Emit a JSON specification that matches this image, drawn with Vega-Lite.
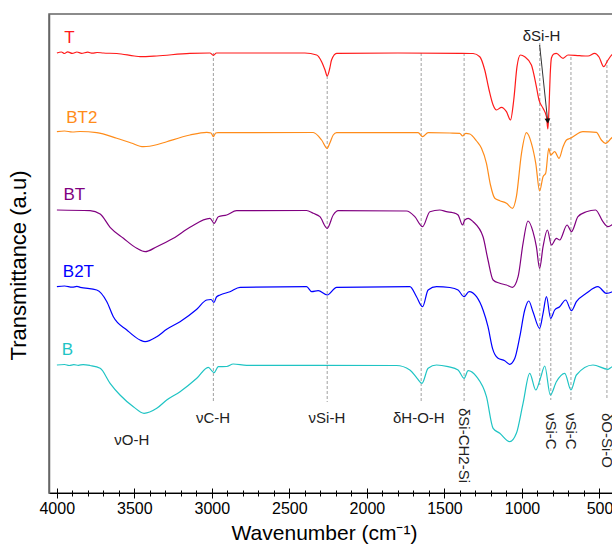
{
  "$schema": "https://vega.github.io/schema/vega-lite/v6.json",
  "autosize": "none",
  "padding": {"left": 49, "top": 14, "right": 0, "bottom": 54},
  "width": 566,
  "height": 479,
  "config": {"font": "Liberation Sans", "view": {"stroke": "#666", "strokeWidth": 1.5}, "axis": {"grid": false}},
  "datasets": {
    "spec": [
      {"s":"T","wn":3999,"t":4.40},{"s":"T","wn":3970,"t":4.41},{"s":"T","wn":3950,"t":4.395},{"s":"T","wn":3930,"t":4.412},{"s":"T","wn":3900,"t":4.396},{"s":"T","wn":3870,"t":4.41},{"s":"T","wn":3840,"t":4.397},{"s":"T","wn":3800,"t":4.408},{"s":"T","wn":3770,"t":4.398},{"s":"T","wn":3740,"t":4.405},{"s":"T","wn":3700,"t":4.40},{"s":"T","wn":3613,"t":4.395},{"s":"T","wn":3500,"t":4.37},{"s":"T","wn":3463,"t":4.363},{"s":"T","wn":3355,"t":4.37},{"s":"T","wn":3141,"t":4.397},{"s":"T","wn":3012,"t":4.40},{"s":"T","wn":2990,"t":4.377},{"s":"T","wn":2970,"t":4.40},{"s":"T","wn":2400,"t":4.40},{"s":"T","wn":2324,"t":4.38},{"s":"T","wn":2292,"t":4.313},{"s":"T","wn":2270,"t":4.23},{"s":"T","wn":2256,"t":4.17},{"s":"T","wn":2239,"t":4.25},{"s":"T","wn":2228,"t":4.33},{"s":"T","wn":2195,"t":4.397},{"s":"T","wn":1800,"t":4.40},{"s":"T","wn":1400,"t":4.397},{"s":"T","wn":1315,"t":4.395},{"s":"T","wn":1272,"t":4.363},{"s":"T","wn":1240,"t":4.23},{"s":"T","wn":1212,"t":4.03},{"s":"T","wn":1186,"t":3.88},{"s":"T","wn":1164,"t":3.83},{"s":"T","wn":1132,"t":3.857},{"s":"T","wn":1100,"t":3.813},{"s":"T","wn":1074,"t":3.73},{"s":"T","wn":1053,"t":3.93},{"s":"T","wn":1032,"t":4.263},{"s":"T","wn":1010,"t":4.38},{"s":"T","wn":982,"t":4.363},{"s":"T","wn":939,"t":4.28},{"s":"T","wn":907,"t":4.063},{"s":"T","wn":890,"t":3.93},{"s":"T","wn":864,"t":3.847},{"s":"T","wn":842,"t":3.763},{"s":"T","wn":833,"t":3.64},{"s":"T","wn":826,"t":3.83},{"s":"T","wn":818,"t":4.18},{"s":"T","wn":810,"t":4.35},{"s":"T","wn":795,"t":4.39},{"s":"T","wn":778,"t":4.397},{"s":"T","wn":735,"t":4.347},{"s":"T","wn":703,"t":4.38},{"s":"T","wn":628,"t":4.373},{"s":"T","wn":574,"t":4.37},{"s":"T","wn":531,"t":4.397},{"s":"T","wn":503,"t":4.36},{"s":"T","wn":473,"t":4.263},{"s":"T","wn":445,"t":4.33},{"s":"T","wn":421,"t":4.38},{"s":"T","wn":400,"t":4.40},
      {"s":"BT2","wn":3999,"t":3.613},{"s":"BT2","wn":3950,"t":3.62},{"s":"BT2","wn":3900,"t":3.61},{"s":"BT2","wn":3850,"t":3.615},{"s":"BT2","wn":3742,"t":3.603},{"s":"BT2","wn":3613,"t":3.547},{"s":"BT2","wn":3520,"t":3.50},{"s":"BT2","wn":3441,"t":3.463},{"s":"BT2","wn":3350,"t":3.485},{"s":"BT2","wn":3291,"t":3.513},{"s":"BT2","wn":3141,"t":3.58},{"s":"BT2","wn":3033,"t":3.607},{"s":"BT2","wn":3005,"t":3.60},{"s":"BT2","wn":2990,"t":3.563},{"s":"BT2","wn":2975,"t":3.60},{"s":"BT2","wn":2960,"t":3.603},{"s":"BT2","wn":2346,"t":3.605},{"s":"BT2","wn":2292,"t":3.53},{"s":"BT2","wn":2256,"t":3.447},{"s":"BT2","wn":2239,"t":3.50},{"s":"BT2","wn":2217,"t":3.58},{"s":"BT2","wn":2195,"t":3.603},{"s":"BT2","wn":1670,"t":3.603},{"s":"BT2","wn":1641,"t":3.563},{"s":"BT2","wn":1605,"t":3.603},{"s":"BT2","wn":1465,"t":3.60},{"s":"BT2","wn":1401,"t":3.597},{"s":"BT2","wn":1383,"t":3.57},{"s":"BT2","wn":1362,"t":3.597},{"s":"BT2","wn":1336,"t":3.59},{"s":"BT2","wn":1293,"t":3.52},{"s":"BT2","wn":1261,"t":3.447},{"s":"BT2","wn":1229,"t":3.297},{"s":"BT2","wn":1203,"t":3.08},{"s":"BT2","wn":1175,"t":2.947},{"s":"BT2","wn":1143,"t":2.923},{"s":"BT2","wn":1100,"t":2.897},{"s":"BT2","wn":1061,"t":2.847},{"s":"BT2","wn":1036,"t":2.963},{"s":"BT2","wn":1003,"t":3.397},{"s":"BT2","wn":971,"t":3.603},{"s":"BT2","wn":939,"t":3.497},{"s":"BT2","wn":911,"t":3.297},{"s":"BT2","wn":886,"t":3.02},{"s":"BT2","wn":864,"t":3.163},{"s":"BT2","wn":847,"t":3.197},{"s":"BT2","wn":827,"t":3.447},{"s":"BT2","wn":815,"t":3.38},{"s":"BT2","wn":789,"t":3.413},{"s":"BT2","wn":761,"t":3.347},{"s":"BT2","wn":735,"t":3.463},{"s":"BT2","wn":713,"t":3.53},{"s":"BT2","wn":688,"t":3.547},{"s":"BT2","wn":671,"t":3.563},{"s":"BT2","wn":607,"t":3.613},{"s":"BT2","wn":520,"t":3.607},{"s":"BT2","wn":488,"t":3.53},{"s":"BT2","wn":462,"t":3.497},{"s":"BT2","wn":424,"t":3.547},{"s":"BT2","wn":400,"t":3.58},
      {"s":"BT","wn":3999,"t":2.83},{"s":"BT","wn":3785,"t":2.823},{"s":"BT","wn":3720,"t":2.79},{"s":"BT","wn":3656,"t":2.657},{"s":"BT","wn":3570,"t":2.547},{"s":"BT","wn":3484,"t":2.447},{"s":"BT","wn":3430,"t":2.413},{"s":"BT","wn":3355,"t":2.463},{"s":"BT","wn":3248,"t":2.547},{"s":"BT","wn":3141,"t":2.657},{"s":"BT","wn":3012,"t":2.747},{"s":"BT","wn":2985,"t":2.697},{"s":"BT","wn":2958,"t":2.763},{"s":"BT","wn":2904,"t":2.78},{"s":"BT","wn":2840,"t":2.823},{"s":"BT","wn":2389,"t":2.825},{"s":"BT","wn":2346,"t":2.797},{"s":"BT","wn":2303,"t":2.763},{"s":"BT","wn":2256,"t":2.647},{"s":"BT","wn":2217,"t":2.78},{"s":"BT","wn":2185,"t":2.823},{"s":"BT","wn":1744,"t":2.82},{"s":"BT","wn":1691,"t":2.763},{"s":"BT","wn":1641,"t":2.663},{"s":"BT","wn":1594,"t":2.813},{"s":"BT","wn":1530,"t":2.83},{"s":"BT","wn":1487,"t":2.813},{"s":"BT","wn":1444,"t":2.803},{"s":"BT","wn":1412,"t":2.78},{"s":"BT","wn":1383,"t":2.68},{"s":"BT","wn":1369,"t":2.73},{"s":"BT","wn":1347,"t":2.747},{"s":"BT","wn":1315,"t":2.713},{"s":"BT","wn":1251,"t":2.563},{"s":"BT","wn":1219,"t":2.33},{"s":"BT","wn":1186,"t":2.13},{"s":"BT","wn":1143,"t":2.097},{"s":"BT","wn":1100,"t":2.08},{"s":"BT","wn":1061,"t":2.057},{"s":"BT","wn":1025,"t":2.163},{"s":"BT","wn":993,"t":2.497},{"s":"BT","wn":961,"t":2.72},{"s":"BT","wn":929,"t":2.613},{"s":"BT","wn":907,"t":2.463},{"s":"BT","wn":886,"t":2.247},{"s":"BT","wn":864,"t":2.463},{"s":"BT","wn":836,"t":2.63},{"s":"BT","wn":810,"t":2.48},{"s":"BT","wn":778,"t":2.547},{"s":"BT","wn":757,"t":2.53},{"s":"BT","wn":709,"t":2.68},{"s":"BT","wn":681,"t":2.613},{"s":"BT","wn":639,"t":2.763},{"s":"BT","wn":585,"t":2.813},{"s":"BT","wn":525,"t":2.83},{"s":"BT","wn":478,"t":2.713},{"s":"BT","wn":445,"t":2.663},{"s":"BT","wn":421,"t":2.68},{"s":"BT","wn":400,"t":2.71},
      {"s":"B2T","wn":3999,"t":2.063},{"s":"B2T","wn":3950,"t":2.07},{"s":"B2T","wn":3900,"t":2.058},{"s":"B2T","wn":3870,"t":2.066},{"s":"B2T","wn":3849,"t":2.057},{"s":"B2T","wn":3742,"t":2.03},{"s":"B2T","wn":3677,"t":1.913},{"s":"B2T","wn":3635,"t":1.763},{"s":"B2T","wn":3548,"t":1.63},{"s":"B2T","wn":3463,"t":1.53},{"s":"B2T","wn":3430,"t":1.513},{"s":"B2T","wn":3355,"t":1.563},{"s":"B2T","wn":3291,"t":1.637},{"s":"B2T","wn":3205,"t":1.713},{"s":"B2T","wn":3097,"t":1.837},{"s":"B2T","wn":3033,"t":1.93},{"s":"B2T","wn":3005,"t":1.935},{"s":"B2T","wn":2986,"t":1.905},{"s":"B2T","wn":2970,"t":1.96},{"s":"B2T","wn":2947,"t":1.98},{"s":"B2T","wn":2883,"t":2.013},{"s":"B2T","wn":2818,"t":2.057},{"s":"B2T","wn":2389,"t":2.063},{"s":"B2T","wn":2356,"t":2.013},{"s":"B2T","wn":2314,"t":2.023},{"s":"B2T","wn":2256,"t":1.98},{"s":"B2T","wn":2195,"t":2.057},{"s":"B2T","wn":1723,"t":2.063},{"s":"B2T","wn":1680,"t":1.963},{"s":"B2T","wn":1641,"t":1.863},{"s":"B2T","wn":1605,"t":2.03},{"s":"B2T","wn":1551,"t":2.063},{"s":"B2T","wn":1465,"t":2.055},{"s":"B2T","wn":1412,"t":2.03},{"s":"B2T","wn":1373,"t":1.963},{"s":"B2T","wn":1341,"t":2.013},{"s":"B2T","wn":1293,"t":1.963},{"s":"B2T","wn":1251,"t":1.83},{"s":"B2T","wn":1219,"t":1.663},{"s":"B2T","wn":1190,"t":1.447},{"s":"B2T","wn":1154,"t":1.347},{"s":"B2T","wn":1111,"t":1.323},{"s":"B2T","wn":1079,"t":1.287},{"s":"B2T","wn":1046,"t":1.347},{"s":"B2T","wn":1014,"t":1.563},{"s":"B2T","wn":982,"t":1.83},{"s":"B2T","wn":956,"t":1.92},{"s":"B2T","wn":929,"t":1.813},{"s":"B2T","wn":886,"t":1.647},{"s":"B2T","wn":864,"t":1.797},{"s":"B2T","wn":842,"t":1.963},{"s":"B2T","wn":815,"t":1.747},{"s":"B2T","wn":789,"t":1.83},{"s":"B2T","wn":757,"t":1.863},{"s":"B2T","wn":718,"t":1.93},{"s":"B2T","wn":681,"t":1.823},{"s":"B2T","wn":649,"t":1.913},{"s":"B2T","wn":585,"t":1.997},{"s":"B2T","wn":510,"t":2.063},{"s":"B2T","wn":456,"t":1.997},{"s":"B2T","wn":421,"t":2.01},{"s":"B2T","wn":400,"t":2.03},
      {"s":"B","wn":3999,"t":1.28},{"s":"B","wn":3950,"t":1.285},{"s":"B","wn":3920,"t":1.275},{"s":"B","wn":3890,"t":1.283},{"s":"B","wn":3860,"t":1.277},{"s":"B","wn":3830,"t":1.284},{"s":"B","wn":3785,"t":1.275},{"s":"B","wn":3720,"t":1.247},{"s":"B","wn":3656,"t":1.097},{"s":"B","wn":3592,"t":0.98},{"s":"B","wn":3506,"t":0.863},{"s":"B","wn":3437,"t":0.797},{"s":"B","wn":3355,"t":0.847},{"s":"B","wn":3291,"t":0.93},{"s":"B","wn":3205,"t":1.013},{"s":"B","wn":3097,"t":1.147},{"s":"B","wn":3023,"t":1.257},{"s":"B","wn":2986,"t":1.203},{"s":"B","wn":2958,"t":1.263},{"s":"B","wn":2904,"t":1.265},{"s":"B","wn":2862,"t":1.29},{"s":"B","wn":2775,"t":1.277},{"s":"B","wn":1809,"t":1.275},{"s":"B","wn":1723,"t":1.23},{"s":"B","wn":1676,"t":1.147},{"s":"B","wn":1645,"t":1.097},{"s":"B","wn":1605,"t":1.247},{"s":"B","wn":1551,"t":1.28},{"s":"B","wn":1476,"t":1.263},{"s":"B","wn":1412,"t":1.23},{"s":"B","wn":1373,"t":1.147},{"s":"B","wn":1347,"t":1.223},{"s":"B","wn":1293,"t":1.163},{"s":"B","wn":1229,"t":0.963},{"s":"B","wn":1186,"t":0.647},{"s":"B","wn":1143,"t":0.597},{"s":"B","wn":1079,"t":0.513},{"s":"B","wn":1036,"t":0.597},{"s":"B","wn":993,"t":0.897},{"s":"B","wn":950,"t":1.197},{"s":"B","wn":911,"t":1.03},{"s":"B","wn":881,"t":1.147},{"s":"B","wn":853,"t":1.27},{"s":"B","wn":817,"t":0.98},{"s":"B","wn":778,"t":1.113},{"s":"B","wn":724,"t":1.197},{"s":"B","wn":684,"t":1.03},{"s":"B","wn":649,"t":1.18},{"s":"B","wn":542,"t":1.28},{"s":"B","wn":445,"t":1.237},{"s":"B","wn":421,"t":1.26},{"s":"B","wn":400,"t":1.27}
    ],
    "vlines": [
      {"wn":2990,"t1":4.40,"t2":0.91},{"wn":2256,"t1":4.17,"t2":0.91},{"wn":1650,"t1":4.40,"t2":0.91},{"wn":1373,"t1":4.40,"t2":0.91},
      {"wn":885,"t1":4.50,"t2":1.08},{"wn":814,"t1":3.70,"t2":0.93},{"wn":684,"t1":4.36,"t2":0.93},{"wn":452,"t1":4.33,"t2":0.93}
    ],
    "hlabels": [
      {"label":"νO-H","wn":3516,"t":0.53},{"label":"νC-H","wn":2992,"t":0.75},{"label":"νSi-H","wn":2258,"t":0.75},{"label":"δH-O-H","wn":1665,"t":0.75},{"label":"δSi-H","wn":874,"t":4.57}
    ],
    "vlabels": [
      {"label":"δSi-CH2-Si","wn":1373,"t":0.85},{"label":"νSi-C","wn":815,"t":0.80},{"label":"νSi-C","wn":684,"t":0.80},{"label":"δO-Si-O","wn":452,"t":0.80}
    ],
    "arrow": [{"wa":886,"ta":4.48,"wb":834,"tb":3.72}],
    "names": [
      {"s":"T","wn":3952,"t":4.55},{"s":"BT2","wn":3939,"t":3.75},{"s":"BT","wn":3957,"t":2.98},{"s":"B2T","wn":3961,"t":2.21},{"s":"B","wn":3967,"t":1.43}
    ]
  },
  "resolve": {"axis": {"x": "independent", "y": "independent"}},
  "layer": [
    {
      "data": {"name": "vlines"},
      "mark": {"type": "rule", "color": "#a0a0a0", "strokeDash": [3, 2], "strokeWidth": 1},
      "encoding": {
        "x": {"field": "wn", "type": "quantitative", "scale": {"domain": [400, 4050], "reverse": true, "nice": false, "zero": false},
              "axis": {"orient": "bottom", "values": [500,1000,1500,2000,2500,3000,3500,4000], "tickSize": -5, "tickColor": "#000", "labels": false, "domain": false, "title": null}},
        "y": {"field": "t1", "type": "quantitative", "scale": {"domain": [0, 4.79], "nice": false, "zero": false}, "axis": null},
        "y2": {"field": "t2"}
      }
    },
    {
      "data": {"name": "spec"},
      "mark": {"type": "line", "strokeWidth": 1.2, "interpolate": "monotone"},
      "encoding": {
        "x": {"field": "wn", "type": "quantitative",
              "axis": {"orient": "bottom", "values": [500,1000,1500,2000,2500,3000,3500,4000], "format": "d", "tickSize": 5, "tickColor": "#000", "domainColor": "#000", "domainWidth": 1.2,
                       "labelFontSize": 16, "labelColor": "#000", "labelPadding": 2, "labelFont": "Liberation Sans",
                       "title": "Wavenumber (cm⁻¹)", "titleFontSize": 21, "titleFontWeight": "normal", "titleColor": "#000", "titleFont": "Liberation Sans",
                       "titleX": 275, "titleY": 46, "titleBaseline": "alphabetic", "titleAlign": "center"}},
        "y": {"field": "t", "type": "quantitative",
              "axis": {"orient": "left", "ticks": false, "labels": false, "domainColor": "#666", "domainWidth": 1.5,
                       "title": "Transmittance (a.u)", "titleFontSize": 22, "titleFontWeight": "normal", "titleColor": "#000", "titleFont": "Liberation Sans",
                       "titleX": -24, "titleY": 251, "titleBaseline": "alphabetic", "titleAlign": "center", "titleAngle": -90}},
        "color": {"field": "s", "type": "nominal", "scale": {"domain": ["T","BT2","BT","B2T","B"], "range": ["#ff1a1a","#ff8c1a","#800080","#0000ff","#1fc4c4"]}, "legend": null},
        "detail": {"field": "s"}
      }
    },
    {
      "data": {"name": "hlabels"},
      "mark": {"type": "text", "fontSize": 15, "color": "#222", "align": "center", "baseline": "middle", "font": "Liberation Sans"},
      "encoding": {
        "x": {"field": "wn", "type": "quantitative",
              "axis": {"orient": "bottom", "values": [600,700,800,900,1100,1200,1300,1400,1600,1700,1800,1900,2100,2200,2300,2400,2600,2700,2800,2900,3100,3200,3300,3400,3600,3700,3800,3900], "tickSize": 3, "tickColor": "#000", "labels": false, "domain": false, "title": null}},
        "y": {"field": "t", "type": "quantitative", "axis": null},
        "text": {"field": "label"}
      }
    },
    {
      "data": {"name": "vlabels"},
      "mark": {"type": "text", "fontSize": 15, "color": "#222", "align": "left", "baseline": "middle", "angle": 90, "font": "Liberation Sans"},
      "encoding": {
        "x": {"field": "wn", "type": "quantitative",
              "axis": {"orient": "bottom", "values": [600,700,800,900,1100,1200,1300,1400,1600,1700,1800,1900,2100,2200,2300,2400,2600,2700,2800,2900,3100,3200,3300,3400,3600,3700,3800,3900], "tickSize": -3, "tickColor": "#000", "labels": false, "domain": false, "title": null}},
        "y": {"field": "t", "type": "quantitative", "axis": null},
        "text": {"field": "label"}
      }
    },
    {
      "data": {"name": "arrow"},
      "mark": {"type": "rule", "color": "#333", "strokeWidth": 1},
      "encoding": {
        "x": {"field": "wa", "type": "quantitative", "axis": null},
        "x2": {"field": "wb"},
        "y": {"field": "ta", "type": "quantitative", "axis": null},
        "y2": {"field": "tb"}
      }
    },
    {
      "data": {"name": "arrow"},
      "mark": {"type": "point", "shape": "triangle-down", "filled": true, "size": 35, "color": "#111", "opacity": 1, "angle": -6},
      "encoding": {
        "x": {"field": "wb", "type": "quantitative", "axis": null},
        "y": {"field": "tb", "type": "quantitative", "axis": null}
      }
    },
    {
      "data": {"name": "names"},
      "mark": {"type": "text", "fontSize": 17, "align": "left", "baseline": "middle", "font": "Liberation Sans"},
      "encoding": {
        "x": {"field": "wn", "type": "quantitative", "axis": null},
        "y": {"field": "t", "type": "quantitative", "axis": null},
        "text": {"field": "s"},
        "color": {"field": "s", "type": "nominal", "legend": null}
      }
    }
  ]
}
